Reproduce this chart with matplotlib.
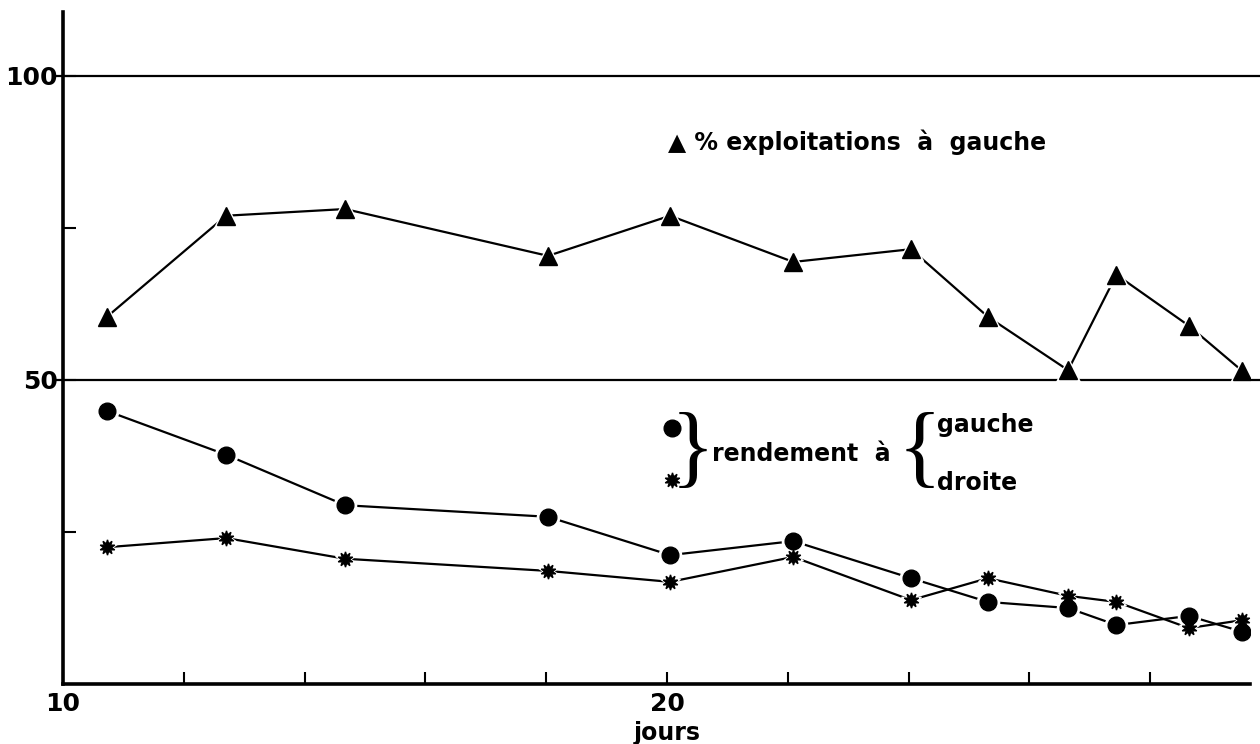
import matplotlib
matplotlib.use("Agg")
import matplotlib.pyplot as plt

# jours d'observation
jours = [10.73, 12.70, 14.67, 18.03, 20.05, 22.09, 24.04, 25.31, 26.64, 27.44, 28.64, 29.52]
# % exploitations a gauche
pct_gauche = [60.4, 77.0, 78.1, 70.4, 77.0, 69.4, 71.5, 60.4, 51.6, 67.3, 58.9, 51.5]
# rendement a gauche / a droite
rend_gauche = [44.9, 37.7, 29.4, 27.5, 21.2, 23.5, 17.4, 13.5, 12.5, 9.7, 11.2, 8.6]
rend_droite = [22.5, 24.0, 20.6, 18.6, 16.8, 20.9, 13.8, 17.4, 14.5, 13.5, 9.2, 10.5]

x_ticks = list(range(10, 30, 2))
x_labels = ["10", "", "", "", "", "20", "", "", "", ""]
y_ticks = [25, 50, 75, 100]
y_labels = ["", "50", "", "100"]

plt.rcParams["font.family"] = ["DejaVu Sans"]

fig = plt.figure(figsize=(12.6, 7.44), dpi=100)
ax = fig.add_axes([0.05, 0.0806, 0.942, 0.9033])
ax.set_xlim(10, 29.65)
ax.set_ylim(0, 110.5)

for lvl in (50, 100):
    ax.plot([9.9, 30.2], [lvl, lvl], color="black", lw=1.6, clip_on=False, zorder=1)


def serie(y, marker, ms):
    ax.plot(jours, y, color="black", lw=1.6, zorder=2)
    ax.plot(jours, y, ls="none", marker=marker, ms=ms + 4, color="white", zorder=3)
    ax.plot(jours, y, ls="none", marker=marker, ms=ms, color="black", zorder=4)


serie(pct_gauche, "^", 13)
serie(rend_gauche, "o", 12)
serie(rend_droite, (10, 1, 0), 11)

for s in ("top", "right"):
    ax.spines[s].set_visible(False)
ax.spines["left"].set_linewidth(2.6)
ax.spines["bottom"].set_linewidth(2.6)

ax.set_xticks(x_ticks)
ax.set_xticklabels(x_labels)
ax.set_yticks(y_ticks)
ax.set_yticklabels(y_labels)
ax.tick_params(axis="both", direction="in", length=9, width=1.5,
               labelsize=18, pad=6)
ax.tick_params(axis="y", pad=4)
for lab in ax.get_xticklabels() + ax.get_yticklabels():
    lab.set_fontweight("bold")

ax.text(20, -8.0, "jours", ha="center", va="center", fontsize=17, fontweight="bold")

# legendes dans le graphique
ax.text(20.02, 89.0, "▲ % exploitations  à  gauche", ha="left", va="center",
        fontsize=17, fontweight="bold")

ax.plot([20.08], [42.1], marker="o", ms=12, color="black", ls="none")
ax.plot([20.08], [33.6], marker=(10, 1, 0), ms=11, color="black", ls="none")
ax.text(20.42, 37.9, "}", ha="center", va="center", fontsize=66,
        family="Liberation Serif")
ax.text(20.75, 37.9, "rendement  à", ha="left", va="center",
        fontsize=17, fontweight="bold")
ax.text(24.18, 37.9, "{", ha="center", va="center", fontsize=66,
        family="Liberation Serif")
ax.text(24.47, 42.6, "gauche", ha="left", va="center",
        fontsize=17, fontweight="bold")
ax.text(24.47, 33.1, "droite", ha="left", va="center",
        fontsize=17, fontweight="bold")

fig.savefig("out.png", dpi=100)
